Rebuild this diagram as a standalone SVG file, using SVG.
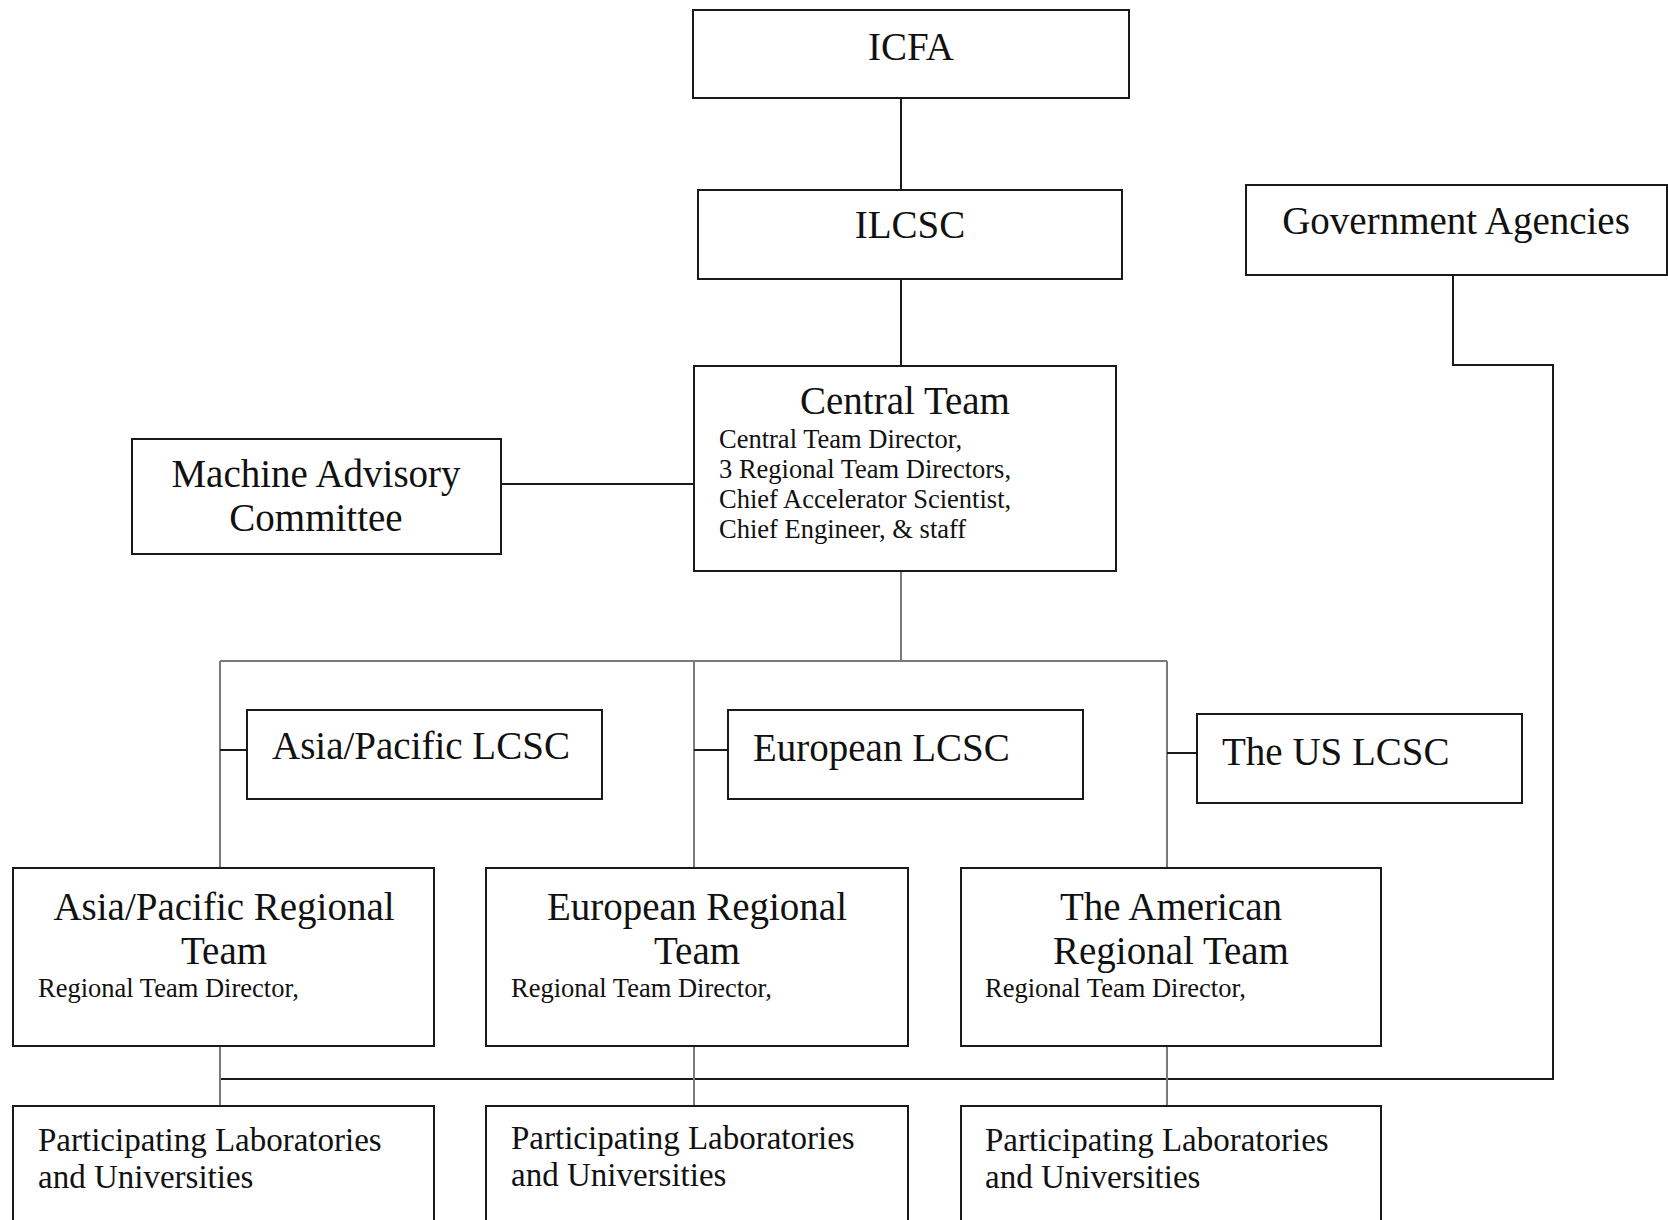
<svg xmlns="http://www.w3.org/2000/svg" width="1668" height="1220" viewBox="0 0 1668 1220">
<style>
.box{fill:#fff;stroke:#1a1a1a;stroke-width:2}
.ln{fill:none;stroke:#1a1a1a;stroke-width:2}
.lg{fill:none;stroke:#7a7a7a;stroke-width:2}
text{font-family:"Liberation Serif","Times New Roman",serif;fill:#111}
.big{font-size:39px}
.mid{font-size:33px}
.sm{font-size:26.5px}
.c{text-anchor:middle}
</style>
<rect width="1668" height="1220" fill="#fff"/>
<g id="connectors">
<path class="ln" d="M901 98V190M901 279V366"/>
<path class="ln" d="M501 484H694"/>
<path class="lg" d="M901 571V661M220 661H1167M220 661V868M694 661V868M1167 661V868"/>
<path class="ln" d="M220 750H247M694 750H728M1167 753H1197"/>
<path class="ln" d="M1453 275V365H1553V1079H220"/>
<path class="lg" d="M220 1046V1106M694 1046V1106M1167 1046V1106"/>
</g>
<g id="icfa"><rect class="box" x="693" y="10" width="436" height="88"/><text class="big c" x="911" y="60">ICFA</text></g>
<g id="ilcsc"><rect class="box" x="698" y="190" width="424" height="89"/><text class="big c" x="910" y="238">ILCSC</text></g>
<g id="gov"><rect class="box" x="1246" y="185" width="421" height="90"/><text class="big c" x="1456" y="234">Government Agencies</text></g>
<g id="central"><rect class="box" x="694" y="366" width="422" height="205"/><text class="big c" x="905" y="414">Central Team</text>
<text class="sm" x="719" y="448">Central Team Director,</text>
<text class="sm" x="719" y="478">3 Regional Team Directors,</text>
<text class="sm" x="719" y="508">Chief Accelerator Scientist,</text>
<text class="sm" x="719" y="538">Chief Engineer, &amp; staff</text></g>
<g id="mac"><rect class="box" x="132" y="439" width="369" height="115"/><text class="big c" x="316" y="487">Machine Advisory</text><text class="big c" x="316" y="531">Committee</text></g>
<g id="ap-lcsc"><rect class="box" x="247" y="710" width="355" height="89"/><text class="big" x="272" y="759">Asia/Pacific LCSC</text></g>
<g id="eu-lcsc"><rect class="box" x="728" y="710" width="355" height="89"/><text class="big" x="753" y="761">European LCSC</text></g>
<g id="us-lcsc"><rect class="box" x="1197" y="714" width="325" height="89"/><text class="big" x="1222" y="765">The US LCSC</text></g>
<g id="ap-rt"><rect class="box" x="13" y="868" width="421" height="178"/><text class="big c" x="224" y="920">Asia/Pacific Regional</text><text class="big c" x="224" y="964">Team</text><text class="sm" x="38" y="997">Regional Team Director,</text></g>
<g id="eu-rt"><rect class="box" x="486" y="868" width="422" height="178"/><text class="big c" x="697" y="920">European Regional</text><text class="big c" x="697" y="964">Team</text><text class="sm" x="511" y="997">Regional Team Director,</text></g>
<g id="am-rt"><rect class="box" x="961" y="868" width="420" height="178"/><text class="big c" x="1171" y="920">The American</text><text class="big c" x="1171" y="964">Regional Team</text><text class="sm" x="985" y="997">Regional Team Director,</text></g>
<g id="ap-lab"><rect class="box" x="13" y="1106" width="421" height="140"/><text class="mid" x="38" y="1151">Participating Laboratories</text><text class="mid" x="38" y="1188">and Universities</text></g>
<g id="eu-lab"><rect class="box" x="486" y="1106" width="422" height="140"/><text class="mid" x="511" y="1149">Participating Laboratories</text><text class="mid" x="511" y="1186">and Universities</text></g>
<g id="am-lab"><rect class="box" x="961" y="1106" width="420" height="140"/><text class="mid" x="985" y="1151">Participating Laboratories</text><text class="mid" x="985" y="1188">and Universities</text></g>
</svg>
